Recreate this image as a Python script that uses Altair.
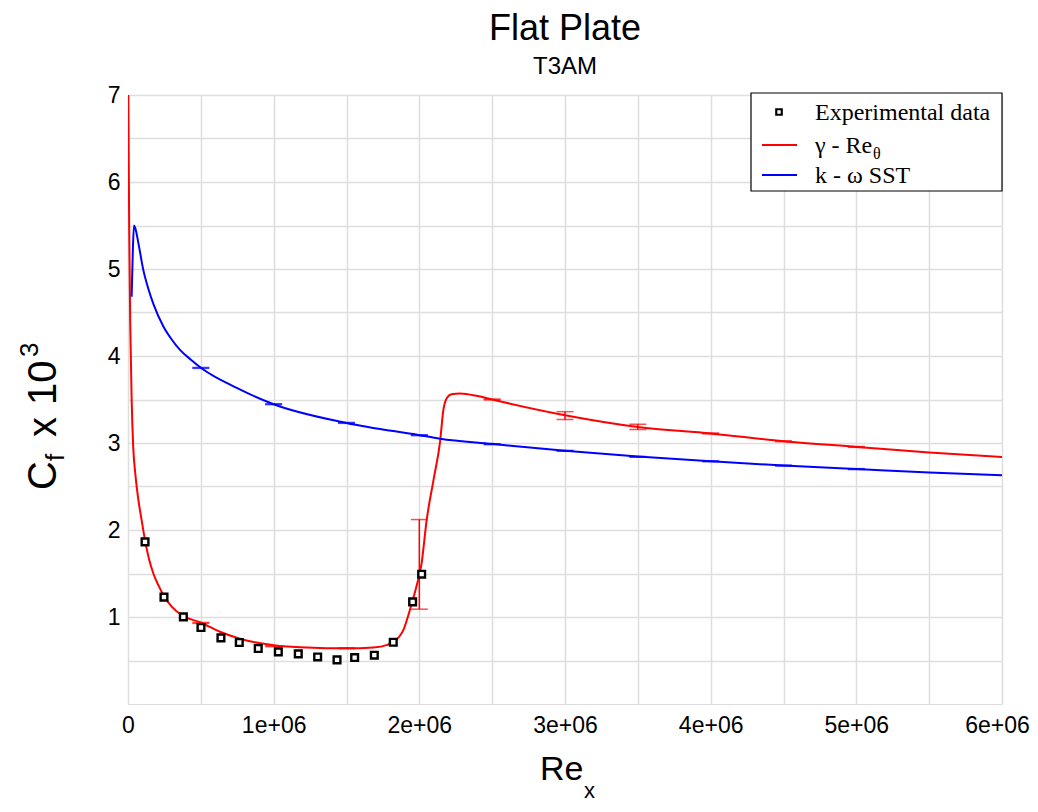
import altair as alt
import pandas as pd

# ---------------- data (x in units of 1e6) ----------------
red_x = [0.002, 0.008, 0.015, 0.025, 0.036, 0.05, 0.07, 0.094, 0.117, 0.145, 0.174, 0.21, 0.247, 0.30, 0.38,
         0.494, 0.631, 0.769, 0.90, 1.0, 1.226, 1.5, 1.684, 1.78, 1.82, 1.86, 1.89, 1.935, 1.98, 2.015, 2.05,
         2.1, 2.142, 2.165, 2.19, 2.22, 2.28, 2.4, 2.5, 3.0, 3.5, 4.0, 4.5, 5.0, 5.5, 6.0]
red_y = [7.0, 5.5, 4.4, 3.5, 2.95, 2.65, 2.36, 2.11, 1.88, 1.66, 1.50, 1.36, 1.24, 1.12, 1.01,
         0.94, 0.83, 0.75, 0.70, 0.676, 0.65, 0.64, 0.65, 0.68, 0.71, 0.77, 0.85, 1.08, 1.35, 1.61, 2.11,
         2.6, 3.01, 3.38, 3.52, 3.56, 3.57, 3.54, 3.50, 3.32, 3.185, 3.11, 3.02, 2.955, 2.89, 2.84]

blue_x = [0.025, 0.033, 0.041, 0.05, 0.071, 0.105, 0.14, 0.174, 0.243, 0.30, 0.357, 0.43, 0.5, 0.75, 1.0,
          1.5, 2.0, 2.142, 2.5, 3.0, 3.5, 4.0, 4.5, 5.0, 5.5, 6.0]
blue_y = [4.68, 5.2, 5.5, 5.47, 5.3, 4.99, 4.77, 4.60, 4.34, 4.19, 4.07, 3.96, 3.865, 3.63, 3.446,
          3.231, 3.09, 3.05, 2.99, 2.91, 2.845, 2.79, 2.74, 2.70, 2.66, 2.63]

exp_x = [0.117, 0.247, 0.380, 0.501, 0.638, 0.764, 0.894, 1.032, 1.169, 1.302, 1.435, 1.556, 1.691,
         1.821, 1.954, 2.016]
exp_y = [1.863, 1.228, 1.001, 0.879, 0.760, 0.707, 0.638, 0.599, 0.576, 0.541, 0.507, 0.534, 0.561,
         0.710, 1.174, 1.492]

err_x = [0.5, 1.0, 1.5, 2.0, 2.5, 3.0, 3.5, 4.0, 4.5, 5.0]
red_lo = [0.927, 0.659, 0.636, 1.09, 3.495, 3.27, 3.155, 3.105, 3.015, 2.95]
red_hi = [0.937, 0.669, 0.646, 2.12, 3.505, 3.36, 3.215, 3.115, 3.025, 2.96]
blue_lo = [3.858, 3.441, 3.226, 3.085, 2.981, 2.905, 2.835, 2.785, 2.735, 2.695]
blue_hi = [3.868, 3.451, 3.236, 3.095, 2.991, 2.915, 2.845, 2.795, 2.745, 2.705]

M = 1e6
red_df = pd.DataFrame({"x": [v * M for v in red_x], "y": red_y})
blue_df = pd.DataFrame({"x": [v * M for v in blue_x], "y": blue_y})
exp_df = pd.DataFrame({"x": [v * M for v in exp_x], "y": exp_y})
err_df = pd.DataFrame({
    "x": [v * M for v in err_x] * 2,
    "lo": red_lo + blue_lo,
    "hi": red_hi + blue_hi,
    "model": ["red"] * len(err_x) + ["blue"] * len(err_x),
})

W, H = 874, 609
SANS = "Liberation Sans"
SERIF = "Liberation Serif"

xs = alt.Scale(domain=[0, 6e6], nice=False, zero=False)
ys = alt.Scale(domain=[0, 7], nice=False, zero=False)

x_axis = alt.Axis(
    values=[i * 0.5e6 for i in range(13)],
    labelExpr="datum.value == 0 ? '0' : (datum.value % 1000000 == 0 ? (datum.value / 1000000) + 'e+06' : '')",
    grid=True, gridColor="#dedede", gridWidth=1.5, ticks=False, domain=False,
    labelFont=SANS, labelFontSize=23, labelColor="black", labelPadding=10,
    labelOffset={"condition": {"test": "datum.value >= 6000000", "value": -5}, "value": 0},
    labelFlush=False, labelOverlap=False, title=None,
)
y_axis = alt.Axis(
    values=[i * 0.5 for i in range(1, 15)],
    labelExpr="datum.value % 1 == 0 ? datum.value : ''",
    grid=True, gridColor="#dedede", gridWidth=1.5, ticks=False, domain=False,
    labelFont=SANS, labelFontSize=23, labelColor="black", labelPadding=8,
    labelFlush=False, labelOverlap=False, title=None,
)

base_x = alt.X("x:Q", scale=xs, axis=x_axis)
base_y = alt.Y("y:Q", scale=ys, axis=y_axis)

red_line = alt.Chart(red_df).mark_line(color="#ff0000", strokeWidth=2, interpolate="monotone", clip=True).encode(
    x=base_x, y=base_y)
blue_line = alt.Chart(blue_df).mark_line(color="#0000ff", strokeWidth=2, interpolate="monotone", clip=True).encode(
    x=alt.X("x:Q", scale=xs), y=alt.Y("y:Q", scale=ys))

cmap = alt.Color("model:N", scale=alt.Scale(domain=["red", "blue"], range=["#ff0000", "#0000ff"]), legend=None)
err_rule = alt.Chart(err_df).mark_rule(strokeWidth=1.5).encode(
    x=alt.X("x:Q", scale=xs), y=alt.Y("lo:Q", scale=ys), y2="hi:Q", color=cmap)
cap_lo = alt.Chart(err_df).mark_tick(orient="horizontal", size=17, thickness=1.5).encode(
    x=alt.X("x:Q", scale=xs), y=alt.Y("lo:Q", scale=ys), color=cmap)
cap_hi = alt.Chart(err_df).mark_tick(orient="horizontal", size=17, thickness=1.5).encode(
    x=alt.X("x:Q", scale=xs), y=alt.Y("hi:Q", scale=ys), color=cmap)

pts = alt.Chart(exp_df).mark_square(size=45, fill="white", stroke="black", strokeWidth=2.4, opacity=1).encode(
    x=alt.X("x:Q", scale=xs), y=alt.Y("y:Q", scale=ys))

one = pd.DataFrame({"k": [0]})

# legend
leg_box = alt.Chart(one).mark_rect(fill="white", stroke="black", strokeWidth=1.2).encode(
    x=alt.value(623), x2=alt.value(874), y=alt.value(-2), y2=alt.value(96))
leg_sq = alt.Chart(one).mark_square(size=30, fill="white", stroke="black", strokeWidth=2.2, opacity=1).encode(
    x=alt.value(651), y=alt.value(17))
leg_red = alt.Chart(one).mark_rule(color="#ff0000", strokeWidth=2).encode(
    x=alt.value(634), x2=alt.value(669), y=alt.value(50))
leg_blue = alt.Chart(one).mark_rule(color="#0000ff", strokeWidth=2).encode(
    x=alt.value(634), x2=alt.value(669), y=alt.value(80))

def txt(s, x, y, size, font=SANS, angle=0, baseline="alphabetic", align="left"):
    kw = dict(text=s, font=font, fontSize=size, color="black", align=align, baseline=baseline)
    if angle:
        kw["angle"] = angle
    return alt.Chart(one).mark_text(**kw).encode(x=alt.value(x), y=alt.value(y))

leg_t1 = txt("Experimental data", 687, 25, 24, SERIF)
leg_t2 = txt("γ - Re", 687, 58, 24, SERIF)
leg_t2s = txt("θ", 745, 64, 16, SERIF)
leg_t3 = txt("k - ω SST", 687, 88, 24, SERIF)

# axis titles
xt1 = txt("Re", 412, 685, 34)
xt2 = txt("x", 456, 703, 22)
yt1 = txt("C", -72, 395, 40, angle=270)
yt2 = txt("f", -64, 366, 26, angle=270)
yt3 = txt("x", -72, 342, 40, angle=270)
yt4 = txt("10", -72, 310, 40, angle=270)
yt5 = txt("3", -90, 262, 26, angle=270)

chart = alt.layer(
    red_line, blue_line, err_rule, cap_lo, cap_hi, pts,
    leg_box, leg_sq, leg_red, leg_blue, leg_t1, leg_t2, leg_t2s, leg_t3,
    xt1, xt2, yt1, yt2, yt3, yt4, yt5,
).properties(
    width=W, height=H,
    title=alt.TitleParams(text="Flat Plate", subtitle="T3AM", anchor="middle", frame="group",
                          font=SANS, fontSize=36, fontWeight="normal", color="black",
                          subtitleFont=SANS, subtitleFontSize=24, subtitleColor="black",
                          subtitlePadding=7, offset=4),
    padding={"left": 120, "top": 87, "right": 28, "bottom": 100},
    autosize=alt.AutoSizeParams(type="none"),
).configure_view(stroke="black", strokeWidth=1.5).configure(background="white")

chart.save("out.html", embed_options={"renderer": "svg", "actions": False})
